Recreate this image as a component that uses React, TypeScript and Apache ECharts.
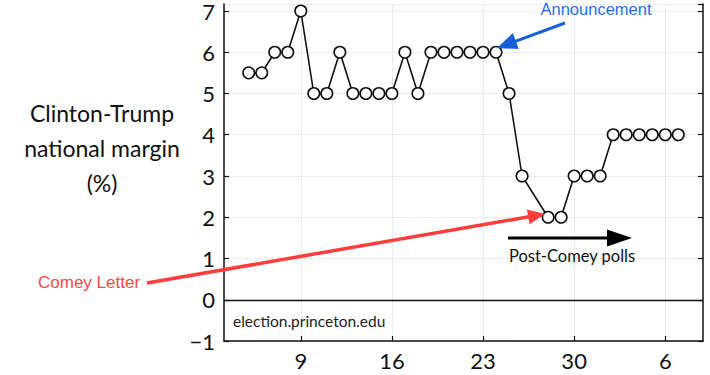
import React, { useEffect, useRef } from "react";
import * as echarts from "echarts";

// Poll dates: days counted from Oct 1 (Nov 6 = 37)
const days = [5, 6, 7, 8, 9, 10, 11, 12, 13, 14, 15, 16, 17, 18, 19, 20, 21, 22, 23, 24, 25, 26, 28, 29, 30, 31, 32, 33, 34, 35, 36, 37, 38];
const margins = [5.5, 5.5, 6, 6, 7, 5, 5, 6, 5, 5, 5, 5, 6, 5, 6, 6, 6, 6, 6, 6, 5, 3, 2, 2, 3, 3, 3, 4, 4, 4, 4, 4, 4];
const xTickDays = [9, 16, 23, 30, 37];
const xTickLabels = ["9", "16", "23", "30", "6"];
const titleLines = ["Clinton-Trump", "national margin", "(%)"];

const FONT = "Lato";

function arrow(x1: number, y1: number, x2: number, y2: number, color: string, lw: number, hl: number, hw: number) {
  const dx = x2 - x1, dy = y2 - y1;
  const len = Math.sqrt(dx * dx + dy * dy);
  const ux = dx / len, uy = dy / len;
  const bx = x2 - ux * hl, by = y2 - uy * hl;
  const px = -uy, py = ux;
  return [
    { type: "line", shape: { x1, y1, x2: bx + ux * 2, y2: by + uy * 2 }, style: { stroke: color, lineWidth: lw }, z: 100 },
    { type: "polygon", shape: { points: [[x2, y2], [bx + px * hw / 2, by + py * hw / 2], [bx - px * hw / 2, by - py * hw / 2]] }, style: { fill: color }, z: 100 },
  ];
}

export default function App() {
  const ref = useRef<HTMLDivElement>(null);
  useEffect(() => {
    document.body.style.margin = "0";
    const chart = echarts.init(ref.current!, null, { renderer: "svg" });
    const gridColor = "#ebebeb";
    const yCommon = {
      type: "value",
      min: -1,
      max: 7.167,
      interval: 1,
      splitLine: { show: false },
      axisLine: { show: true, lineStyle: { color: "#111", width: 1.5 } },
      axisTick: { show: true, inside: true, length: 5, lineStyle: { color: "#111", width: 1.2 } },
    };
    chart.setOption({
      animation: false,
      backgroundColor: "#fff",
      grid: { left: 224, right: 7, top: 0, bottom: 34 },
      xAxis: {
        type: "value",
        min: 3.1,
        max: 39.9,
        axisLine: { show: true, onZero: false, lineStyle: { color: "#111", width: 1.5 } },
        axisTick: { show: true, inside: true, length: 5, customValues: xTickDays, lineStyle: { color: "#111", width: 1.2 } },
        axisLabel: {
          customValues: xTickDays,
          formatter: (v: number) => xTickLabels[xTickDays.indexOf(Math.round(v))] ?? "",
          color: "#111",
          fontSize: 22,
          fontFamily: FONT,
          margin: 8,
        },
        splitLine: { show: true, lineStyle: { color: gridColor, width: 1 } },
      },
      yAxis: [
        {
          ...yCommon,
          position: "left",
          splitLine: { show: true, lineStyle: { color: gridColor, width: 1 } },
          axisLabel: {
            color: "#111",
            fontSize: 22,
            fontFamily: FONT,
            margin: 9,
            showMaxLabel: false,
            formatter: (v: number) => (Number.isInteger(v) ? String(v).replace("-", "\u2212") : ""),
          },
        },
        { ...yCommon, position: "right", axisLabel: { show: false } },
      ],
      series: [
        {
          type: "line",
          data: days.map((d, i) => [d, margins[i]]),
          symbol: "circle",
          symbolSize: 11.5,
          itemStyle: { color: "#fff", borderColor: "#111", borderWidth: 1.6 },
          lineStyle: { color: "#111", width: 1.6 },
          z: 10,
          markLine: {
            silent: true,
            symbol: "none",
            label: { show: false },
            lineStyle: { color: "#111", width: 1.3, type: "solid" },
            data: [{ yAxis: 0 }],
          },
        },
      ],
      graphic: [
        ...titleLines.map((t, i) => ({
          type: "text",
          x: 102,
          y: 113 + i * 35,
          z: 100,
          style: { text: t, fill: "#111", font: `23px ${FONT}`, textAlign: "center", textVerticalAlign: "middle" },
        })),
        {
          type: "text", x: 596, y: 9, z: 100,
          style: { text: "Announcement", fill: "#1f6fe8", font: "16.5px 'Liberation Sans'", textAlign: "center", textVerticalAlign: "middle" },
        },
        {
          type: "text", x: 38, y: 282, z: 100,
          style: { text: "Comey Letter", fill: "#ff4646", font: "17px 'Liberation Sans'", textAlign: "left", textVerticalAlign: "middle" },
        },
        {
          type: "text", x: 572, y: 256, z: 100,
          style: { text: "Post-Comey polls", fill: "#111", font: `16.5px ${FONT}`, textAlign: "center", textVerticalAlign: "middle" },
        },
        {
          type: "text", x: 233, y: 321, z: 100,
          style: { text: "election.princeton.edu", fill: "#222", font: `15.5px ${FONT}`, textAlign: "left", textVerticalAlign: "middle" },
        },
        ...arrow(565, 23, 497, 48, "#1560d8", 3, 20, 17),
        ...arrow(147, 283, 545, 214, "#ff3d3d", 3.5, 17, 15),
        ...arrow(508, 238, 632, 238, "#000", 3, 25, 17),
      ],
    });
    return () => chart.dispose();
  }, []);
  return <div ref={ref} style={{ position: "absolute", left: 0, top: 0, width: 710, height: 375 }} />;
}
